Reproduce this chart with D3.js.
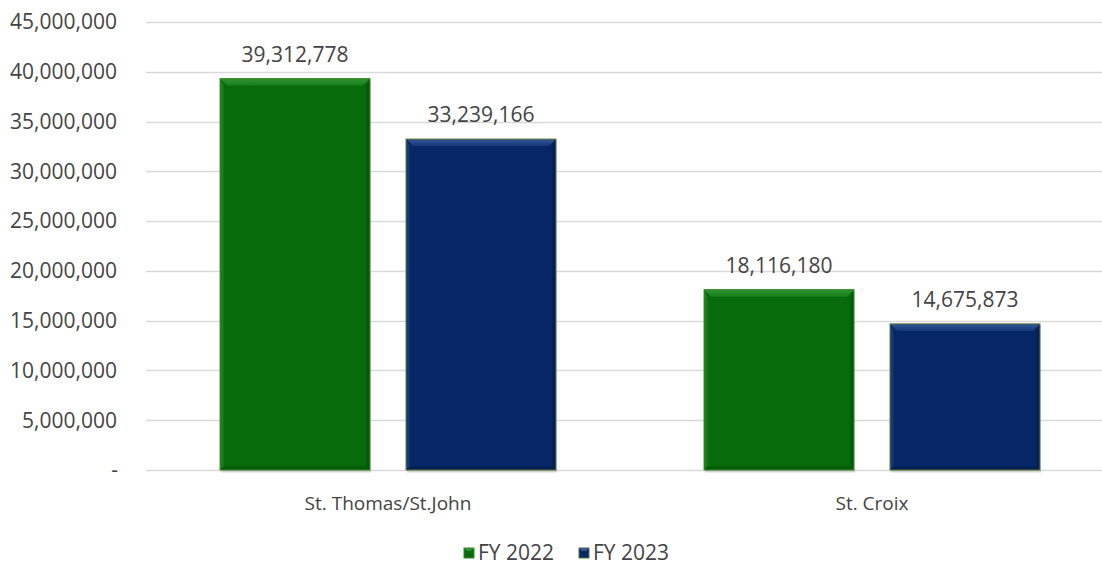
<!DOCTYPE html>
<html><head><meta charset="utf-8">
<script src="https://cdn.jsdelivr.net/npm/d3@7"></script>
<style>body{margin:0;background:#fff}svg{display:block}text{font-family:"Open Sans",sans-serif;fill:#444}</style>
</head><body><svg id="c" width="1102" height="567"></svg>
<script>
const categories = ["St. Thomas/St.John", "St. Croix"];
const seriesNames = ["FY 2022", "FY 2023"];
const fy2022 = [39312778, 18116180];
const fy2023 = [33239166, 14675873];
const tickValues = [0,5000000,10000000,15000000,20000000,25000000,30000000,35000000,40000000,45000000];

(function(){
const svg = d3.select("#c");
const W = 1102;
const pLeft = 146, pRight = 1114, pTop = 22, pBottom = 470;
const colors = {"FY 2022": {base:"#076b0b", light:"#2f9430", dark:"#055a08", side:"#168019", stroke:"#3a8a2e"},
                "FY 2023": {base:"#062665", light:"#35579a", dark:"#051f55", side:"#143878", stroke:"#56762c"}};

const y = d3.scaleLinear().domain([0,45000000]).range([pBottom, pTop]);
const x0 = d3.scaleBand().domain(categories).range([pLeft, pRight]).paddingInner(0.306).paddingOuter(0.153);
const x1 = d3.scaleBand().domain(seriesNames).range([0, x0.bandwidth()]).paddingInner(0.194);

const defs = svg.append("defs");
seriesNames.forEach((s,i)=>{
  const col = colors[s];
  const gr = defs.append("linearGradient").attr("id","tb"+i).attr("x1",0).attr("y1",0).attr("x2",0).attr("y2",1);
  gr.append("stop").attr("offset","0%").attr("stop-color", col.light);
  gr.append("stop").attr("offset","100%").attr("stop-color", col.side);
});

const fmt = d3.format(",");
svg.append("g").selectAll("line").data(tickValues).join("line")
  .attr("x1", pLeft).attr("x2", W).attr("y1", d=>Math.round(y(d))+0.5).attr("y2", d=>Math.round(y(d))+0.5)
  .attr("stroke", "#d9d9d9").attr("stroke-width", 1.3);
svg.append("g").selectAll("text").data(tickValues).join("text")
  .attr("x", d=> d===0 ? 118 : 117).attr("y", d=>y(d)).attr("dy","0.35em")
  .attr("text-anchor","end").style("font-size","21px")
  .text(d=> d===0 ? "-" : fmt(d));

const rows = [];
categories.forEach((c,i)=>{ rows.push({cat:c, s:"FY 2022", i:0, v:fy2022[i]}); rows.push({cat:c, s:"FY 2023", i:1, v:fy2023[i]}); });

const bev = 7;
const g = svg.append("g");
rows.forEach(r=>{
  const bx = x0(r.cat)+x1(r.s), bw = x1.bandwidth(), by = y(r.v), bh = pBottom - by;
  const col = colors[r.s];
  const gg = g.append("g");
  gg.append("rect").attr("x", bx+1).attr("y", by+1).attr("width", bw).attr("height", bh+1.5).attr("fill","#000").attr("opacity",0.15);
  gg.append("rect").attr("x", bx).attr("y", by).attr("width", bw).attr("height", bh).attr("fill", col.base);
  gg.append("polygon").attr("points", [[bx,by],[bx+bw,by],[bx+bw-bev,by+bev],[bx+bev,by+bev]].join(" ")).attr("fill", "url(#tb"+r.i+")");
  gg.append("polygon").attr("points", [[bx,by],[bx+bev*0.5,by+bev],[bx+bev*0.5,by+bh-bev*0.5],[bx,by+bh]].join(" ")).attr("fill", col.side);
  gg.append("polygon").attr("points", [[bx+bw,by],[bx+bw-bev*0.5,by+bev],[bx+bw-bev*0.5,by+bh-bev*0.5],[bx+bw,by+bh]].join(" ")).attr("fill", col.dark);
  gg.append("polygon").attr("points", [[bx,by+bh],[bx+bev*0.5,by+bh-bev*0.5],[bx+bw-bev*0.5,by+bh-bev*0.5],[bx+bw,by+bh]].join(" ")).attr("fill", col.dark);
  gg.append("rect").attr("x", bx).attr("y", by).attr("width", bw).attr("height", bh).attr("fill","none").attr("stroke", col.stroke).attr("stroke-width",1);
  svg.append("text").attr("x", bx+bw/2).attr("y", by-17).attr("text-anchor","middle").style("font-size","21px").text(fmt(r.v));
});

svg.append("g").selectAll("text").data(categories).join("text")
  .attr("x", d=>x0(d)+x0.bandwidth()/2).attr("y", 503).attr("dy","0.35em").attr("text-anchor","middle")
  .style("font-size","19px").text(d=>d);

const legX = [464, 579];
seriesNames.forEach((s,i)=>{
  const col = colors[s];
  const lx = legX[i], ly = 548;
  const lg = svg.append("g");
  lg.append("rect").attr("x", lx).attr("y", ly).attr("width", 10).attr("height", 10).attr("fill", col.base).attr("stroke", col.stroke);
  lg.append("polygon").attr("points", [[lx,ly],[lx+10,ly],[lx+7,ly+3],[lx+3,ly+3]].join(" ")).attr("fill", col.light);
  lg.append("text").attr("x", lx+14).attr("y", ly+5).attr("dy","0.35em").style("font-size","21px").text(s);
});
})();
</script></body></html>
